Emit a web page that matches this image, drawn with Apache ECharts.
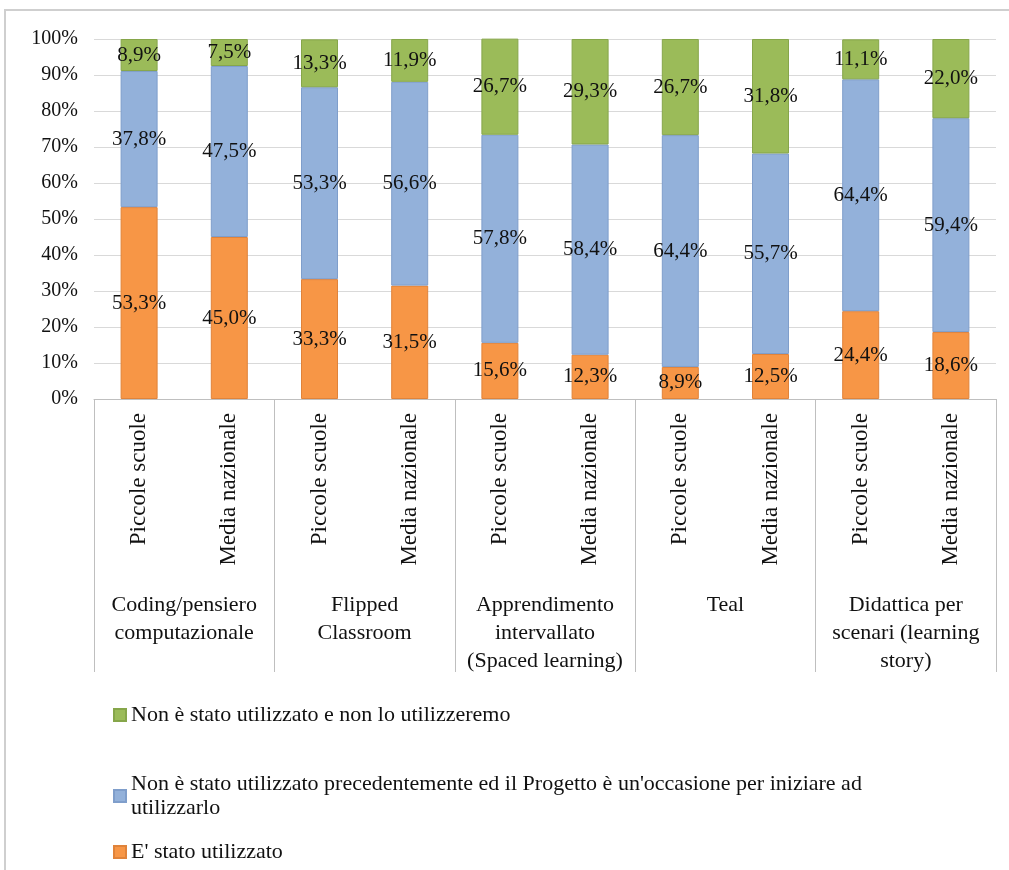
<!DOCTYPE html>
<html>
<head>
<meta charset="utf-8">
<script src="https://cdn.jsdelivr.net/npm/echarts@6/dist/echarts.min.js"></script>
<style>
  html, body { margin: 0; padding: 0; background: #fff; }
  #main { width: 1009px; height: 870px; }
</style>
</head>
<body>
<div id="main"></div>
<script>
var bars = ['Piccole scuole', 'Media nazionale', 'Piccole scuole', 'Media nazionale', 'Piccole scuole',
            'Media nazionale', 'Piccole scuole', 'Media nazionale', 'Piccole scuole', 'Media nazionale'];
var groups = ['Coding/pensiero\ncomputazionale', 'Flipped\nClassroom',
              'Apprendimento\nintervallato\n(Spaced learning)', 'Teal',
              'Didattica per\nscenari (learning\nstory)'];

var utilizzato = [53.3, 45.0, 33.3, 31.5, 15.6, 12.3, 8.9, 12.5, 24.4, 18.6];
var occasione  = [37.8, 47.5, 53.3, 56.6, 57.8, 58.4, 64.4, 55.7, 64.4, 59.4];
var nonUsato   = [8.9, 7.5, 13.3, 11.9, 26.7, 29.3, 26.7, 31.8, 11.1, 22.0];

var nameVerde = 'Non è stato utilizzato e non lo utilizzeremo';
var nameBlu = "Non è stato utilizzato precedentemente ed il Progetto è un'occasione per iniziare ad utilizzarlo";
var nameArancio = "E' stato utilizzato";

var font = 'Liberation Serif';

var chart = echarts.init(document.getElementById('main'));

function fmt(p) {
    return p.value.toFixed(1).replace('.', ',') + '%';
}

function serie(name, data, color, border) {
    return {
        name: name,
        type: 'bar',
        stack: 'tot',
        data: data,
        barWidth: 37,
        itemStyle: { color: color, borderColor: border, borderWidth: 1 },
        label: {
            show: true,
            position: 'inside',
            formatter: fmt,
            color: '#111',
            fontFamily: font,
            fontSize: 21
        }
    };
}

var legendBase = {
    orient: 'vertical',
    left: 108,
    icon: 'rect',
    itemWidth: 12,
    itemHeight: 12,
    selectedMode: false,
    textStyle: { fontFamily: font, fontSize: 22, color: '#111', lineHeight: 24 }
};

option = {
    animation: false,
    backgroundColor: '#fff',
    graphic: [{
        type: 'rect',
        shape: { x: 5, y: 10, width: 1100, height: 1000 },
        style: { fill: 'none', stroke: '#cfcfcf', lineWidth: 2 },
        silent: true
    }],
    legend: [
        Object.assign({}, legendBase, { top: 698, data: [nameVerde] }),
        Object.assign({}, legendBase, {
            top: 767,
            data: [nameBlu],
            formatter: function (n) { return n.replace(' utilizzarlo', '\nutilizzarlo'); }
        }),
        Object.assign({}, legendBase, { top: 835, data: [nameArancio] })
    ],
    grid: { left: 94, right: 13, top: 39, bottom: 471 },
    xAxis: [{
        type: 'category',
        data: bars,
        axisLine: { show: true, lineStyle: { color: '#bfbfbf', width: 1 } },
        axisTick: { show: false },
        axisLabel: {
            interval: 0,
            rotate: 90,
            margin: 14,
            fontFamily: font,
            fontSize: 23,
            color: '#111'
        }
    }, {
        type: 'category',
        data: groups,
        position: 'bottom',
        axisLine: { show: false },
        axisTick: { show: true, interval: 0, length: 273, lineStyle: { color: '#bfbfbf', width: 1 } },
        axisLabel: {
            interval: 0,
            margin: 192,
            fontFamily: font,
            fontSize: 22,
            lineHeight: 28,
            color: '#111'
        }
    }],
    yAxis: {
        type: 'value',
        min: 0,
        max: 100,
        interval: 10,
        axisLine: { show: false },
        axisTick: { show: false },
        splitLine: { lineStyle: { color: '#d9d9d9', width: 1 } },
        axisLabel: {
            formatter: '{value}%',
            margin: 16,
            fontFamily: font,
            fontSize: 20,
            color: '#111'
        }
    },
    series: [
        serie(nameArancio, utilizzato, '#f79646', '#e0833a'),
        serie(nameBlu, occasione, '#93b1da', '#7f9ecb'),
        serie(nameVerde, nonUsato, '#9bbb59', '#86a64a')
    ]
};

chart.setOption(option);
</script>
</body>
</html>
